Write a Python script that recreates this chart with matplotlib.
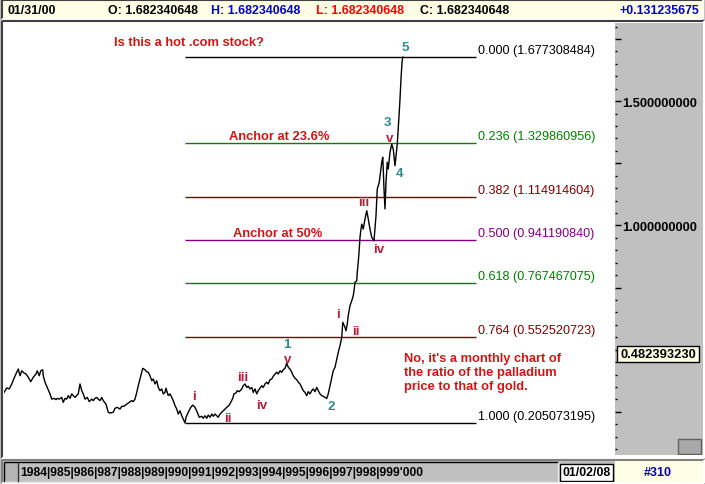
import matplotlib
matplotlib.use('Agg')
import matplotlib.pyplot as plt
from matplotlib.patches import Rectangle
from matplotlib.transforms import blended_transform_factory
from matplotlib.ticker import FixedLocator, MultipleLocator

# ---------------- data ----------------
dates = [
    1984.00, 1984.11, 1984.21, 1984.31, 1984.40, 1984.48, 1984.57, 1984.64, 1984.71, 1984.80,
    1984.88, 1984.97, 1985.07, 1985.17, 1985.28, 1985.33, 1985.41, 1985.47, 1985.55, 1985.57,
    1985.64, 1985.73, 1985.84, 1985.91, 1986.00, 1986.08, 1986.13, 1986.21, 1986.31, 1986.37,
    1986.44, 1986.51, 1986.57, 1986.64, 1986.71, 1986.77, 1986.84, 1986.91, 1986.97, 1987.04,
    1987.11, 1987.17, 1987.24, 1987.33, 1987.41, 1987.51, 1987.57, 1987.64, 1987.71, 1987.77,
    1987.84, 1987.91, 1987.97, 1988.08, 1988.17, 1988.24, 1988.37, 1988.44, 1988.53, 1988.64,
    1988.71, 1988.80, 1988.91, 1989.01, 1989.11, 1989.17, 1989.24, 1989.31, 1989.37, 1989.44,
    1989.51, 1989.55, 1989.64, 1989.71, 1989.77, 1989.84, 1989.91, 1989.97, 1990.04, 1990.11,
    1990.17, 1990.24, 1990.31, 1990.37, 1990.44, 1990.48, 1990.53, 1990.57, 1990.64, 1990.71,
    1990.77, 1990.84, 1990.91, 1990.97, 1991.04, 1991.11, 1991.17, 1991.24,
    1991.28, 1991.37, 1991.47, 1991.55, 1991.64, 1991.73, 1991.81, 1991.91, 1991.97, 1992.04,
    1992.11, 1992.17, 1992.24, 1992.31, 1992.37, 1992.44, 1992.51, 1992.57, 1992.64, 1992.71,
    1992.77, 1992.84, 1992.91, 1993.01, 1993.07, 1993.15, 1993.20, 1993.28, 1993.33, 1993.41,
    1993.51, 1993.57, 1993.64, 1993.71, 1993.77, 1993.84, 1993.91, 1993.97, 1994.04, 1994.11,
    1994.17, 1994.24, 1994.31, 1994.37, 1994.44, 1994.51, 1994.57, 1994.64, 1994.71, 1994.77,
    1994.84, 1994.91, 1994.97, 1995.04, 1995.11, 1995.17, 1995.24, 1995.31, 1995.37, 1995.44,
    1995.51, 1995.57, 1995.64, 1995.71, 1995.77, 1995.84, 1995.91, 1995.97, 1996.04, 1996.11,
    1996.17, 1996.24, 1996.31, 1996.37, 1996.44, 1996.51, 1996.57, 1996.64, 1996.71, 1996.77,
    1996.84, 1996.91, 1996.97, 1997.04, 1997.11, 1997.17, 1997.24, 1997.31, 1997.37,
    1997.44, 1997.51, 1997.55, 1997.64, 1997.68, 1997.73, 1997.77, 1997.84, 1997.91, 1997.97,
    1998.01, 1998.04, 1998.11, 1998.13, 1998.17, 1998.21, 1998.24, 1998.27, 1998.31, 1998.37,
    1998.44, 1998.51, 1998.57, 1998.64, 1998.71, 1998.80, 1998.88, 1998.93, 1999.01, 1999.11,
    1999.15, 1999.17, 1999.20, 1999.24, 1999.28, 1999.33, 1999.37, 1999.44, 1999.51, 1999.57,
    1999.61, 1999.64, 1999.68, 1999.73, 1999.77, 1999.81, 1999.84, 1999.88, 1999.92, 1999.95,
]
ratio = [
    0.328, 0.346, 0.342, 0.362, 0.385, 0.402, 0.422, 0.395, 0.415, 0.406,
    0.402, 0.389, 0.371, 0.389, 0.402, 0.415, 0.395, 0.415, 0.419, 0.395,
    0.369, 0.348, 0.322, 0.301, 0.304, 0.299, 0.304, 0.301, 0.308, 0.288,
    0.304, 0.301, 0.315, 0.304, 0.322, 0.315, 0.308, 0.315, 0.322, 0.362,
    0.335, 0.322, 0.301, 0.308, 0.291, 0.301, 0.295, 0.304, 0.308, 0.301,
    0.295, 0.308, 0.295, 0.281, 0.248, 0.245, 0.248, 0.264, 0.268, 0.261,
    0.272, 0.272, 0.281, 0.288, 0.295, 0.291, 0.301, 0.328, 0.355, 0.382,
    0.409, 0.425, 0.419, 0.411, 0.409, 0.395, 0.375, 0.382, 0.362, 0.375,
    0.348, 0.335, 0.342, 0.322, 0.328, 0.345, 0.328, 0.315, 0.322, 0.308,
    0.295, 0.275, 0.261, 0.241, 0.254, 0.234, 0.221, 0.205,
    0.228, 0.248, 0.268, 0.277, 0.268, 0.248, 0.228, 0.232, 0.224, 0.234,
    0.224, 0.237, 0.228, 0.241, 0.232, 0.241, 0.234, 0.228, 0.241, 0.248,
    0.254, 0.261, 0.268, 0.277, 0.288, 0.304, 0.322, 0.326, 0.335, 0.331,
    0.342, 0.355, 0.362, 0.348, 0.353, 0.342, 0.348, 0.328, 0.342, 0.322,
    0.335, 0.345, 0.355, 0.348, 0.362, 0.369, 0.362, 0.379, 0.382, 0.393,
    0.402, 0.409, 0.402, 0.415, 0.409, 0.419, 0.425, 0.446, 0.429, 0.422,
    0.409, 0.395, 0.385, 0.379, 0.369, 0.362, 0.348, 0.335, 0.328, 0.315,
    0.331, 0.322, 0.335, 0.342, 0.331, 0.348, 0.335, 0.322, 0.315, 0.312,
    0.308, 0.304, 0.322, 0.355, 0.389, 0.415, 0.429, 0.462, 0.489,
    0.516, 0.550, 0.610, 0.590, 0.576, 0.603, 0.637, 0.677, 0.697, 0.717,
    0.744, 0.771, 0.777, 0.811, 0.851, 0.905, 0.952, 0.978, 1.005, 0.985,
    1.026, 1.059, 1.026, 0.985, 0.952, 0.938, 1.039, 1.146, 1.173, 1.254,
    1.274, 1.227, 1.146, 1.066, 1.173, 1.254, 1.227, 1.294, 1.327, 1.307,
    1.267, 1.240, 1.280, 1.327, 1.388, 1.455, 1.508, 1.589, 1.656, 1.677,
]

fib_ratios = [0.000, 0.236, 0.382, 0.500, 0.618, 0.764, 1.000]
fib_values = [1.677308484, 1.329860956, 1.114914604, 0.941190840,
              0.767467075, 0.552520723, 0.205073195]
fib_colors = ['#000000', '#008000', '#800000', '#800080', '#008000', '#800000', '#000000']
fib_start, fib_end = 1991.24, 2002.88

# wave labels: (text, date, value, kind)
wave_labels = [
    ('i', 1991.60, 0.312, 'minor'), ('ii', 1992.95, 0.224, 'minor'),
    ('iii', 1993.53, 0.389, 'minor'), ('iv', 1994.31, 0.277, 'minor'),
    ('v', 1995.33, 0.461, 'minor'), ('1', 1995.33, 0.524, 'major'),
    ('2', 1997.07, 0.274, 'major'),
    ('i', 1997.37, 0.643, 'minor'), ('ii', 1998.08, 0.576, 'minor'),
    ('iii', 1998.40, 1.093, 'minor'), ('iv', 1999.01, 0.905, 'minor'),
    ('v', 1999.41, 1.353, 'minor'), ('3', 1999.33, 1.414, 'major'),
    ('4', 1999.80, 1.211, 'major'), ('5', 2000.04, 1.716, 'major'),
]
notes = [
    ('Is this a hot .com stock?', 1988.40, 1.738),
    ('Anchor at 23.6%', 1993.00, 1.359),
    ('Anchor at 50%', 1993.16, 0.969),
    ("No, it's a monthly chart of\nthe ratio of the palladium\nprice to that of gold.", 2000.00, 0.410),
]
y_ticks = [0.25, 0.50, 0.75, 1.00, 1.25, 1.50, 1.75]
cursor_value = 0.482393230

header = [('01/31/00', '#000000'), ('O: 1.682340648', '#000000'),
          ('H: 1.682340648', '#0000CC'), ('L: 1.682340648', '#FF0000'),
          ('C: 1.682340648', '#000000')]
header_change = '+0.131235675'
scroll_years = "1984|985|986|987|988|989|990|991|992|993|994|995|996|997|998|999'000"
date_box = '01/02/08'
chart_no = '#310'

FONT = 'Liberation Sans'
plt.rcParams['font.family'] = [FONT, 'DejaVu Sans']

# ---------------- figure ----------------
W, H = 705, 485
fig = plt.figure(figsize=(W / 100, H / 100), dpi=100, facecolor='#C0C0C0')

bg = fig.add_axes([0, 0, 1, 1], zorder=-5)
bg.set_xlim(0, W)
bg.set_ylim(H, 0)
bg.axis('off')


def rect(x0, y0, x1, y1, fc, ec='none', lw=0, z=1):
    bg.add_patch(Rectangle((x0, y0), x1 - x0, y1 - y0, facecolor=fc,
                           edgecolor=ec, linewidth=lw, zorder=z))


def sunken(x0, y0, x1, y1, dark='#404040', light='#FFFFFF', lw=1.5):
    kw = dict(lw=lw, zorder=3, solid_capstyle='butt')
    bg.plot([x0, x1], [y0, y0], color=dark, **kw)
    bg.plot([x0, x0], [y0, y1], color=dark, **kw)
    bg.plot([x0, x1], [y1, y1], color=light, **kw)
    bg.plot([x1, x1], [y0, y1], color=light, **kw)


# header bar
rect(2, 1, 703, 20, '#FFFFE6')
sunken(2, 1, 703, 20)
hx = [7, 108, 211, 316, 420]
for (txt, col), x in zip(header, hx):
    bg.text(x, 11, txt, color=col, fontsize=8.9, fontweight='bold',
            va='center', ha='left', zorder=4)
bg.text(699, 11, header_change, color='#0000CC', fontsize=8.9, fontweight='bold',
        va='center', ha='right', zorder=4)

# main frame
rect(2, 22, 704, 459, '#FFFFFF')
sunken(2, 22, 704, 459)

# bottom bar
sunken(2, 461, 704, 484, dark='#808080')
rect(4, 463, 558, 483, '#C0C0C0')
sunken(4, 463, 558, 483, dark='#000000', light='#E8E8E8', lw=1)
rect(5, 464, 17, 482, '#B4B4B4')
bg.plot([18, 18], [464, 482], color='#303030', lw=1, zorder=3)
bg.text(20, 473.5, scroll_years, fontsize=8.7, fontweight='bold', va='center', ha='left',
        color='#000000', zorder=4)
rect(560, 465, 613, 482, '#FFFFFF', ec='#000000', lw=1, z=2)
bg.text(586.5, 473.5, date_box, fontsize=8.9, fontweight='bold', va='center', ha='center',
        color='#000000', zorder=4)
rect(615, 462, 703, 483, '#FFFFE6')
bg.text(658, 473.5, chart_no, fontsize=9.0, fontweight='bold', va='center', ha='center',
        color='#0000AA', zorder=4)


def axpos(x0, y0, x1, y1):
    return [x0 / W, 1 - y1 / H, (x1 - x0) / W, (y1 - y0) / H]


YLIM = (0.0641, 1.8141)

# ---------------- main chart ----------------
ax = fig.add_axes(axpos(4, 24, 615, 459))
ax.set_facecolor('#FFFFFF')
ax.set_xlim(1984.00, 2008.44)
ax.set_ylim(*YLIM)
for s in ax.spines.values():
    s.set_visible(False)
ax.set_xticks([])
ax.set_yticks([])

for val, lvl, col in zip(fib_values, fib_ratios, fib_colors):
    ax.plot([fib_start, fib_end], [val, val], color=col, lw=1.0, solid_capstyle='butt')
    ax.text(fib_end + 0.08, val + 0.004, f'{lvl:.3f} ({val:.9f})', color=col,
            fontsize=9.1, va='bottom', ha='left')

ax.plot(dates, ratio, color='#000000', lw=1.0, zorder=5)

for txt, d, v, kind in wave_labels:
    col = '#B0203A' if kind == 'minor' else '#2E8A8A'
    ax.text(d, v, txt, color=col, fontsize=9.6, fontweight='bold',
            ha='center', va='center', zorder=6)

for txt, d, v in notes:
    ax.text(d, v, txt, color='#D01515', fontsize=9.3, fontweight='bold',
            ha='left', va='center', linespacing=1.25, zorder=6)

# ---------------- right price axis ----------------
ax2 = fig.add_axes(axpos(615, 24, 703, 456))
ax2.set_facecolor('#C0C0C0')
ax2.set_xlim(0, 1)
ax2.set_ylim(YLIM[0] + 3 * 0.004023, YLIM[1])
for s in ax2.spines.values():
    s.set_visible(False)
ax2.set_xticks([])
ax2.yaxis.set_major_locator(FixedLocator(y_ticks))
ax2.set_yticklabels([f'{t:.9f}' if abs(t * 2 - round(t * 2)) < 1e-9 else '' for t in y_ticks])
ax2.yaxis.set_minor_locator(MultipleLocator(0.05))
ax2.tick_params(axis='y', which='major', direction='in', length=4, width=1,
                color='#000000', pad=-5, labelsize=9.3)
ax2.tick_params(axis='y', which='minor', direction='in', length=1.2, width=1, color='#000000')
for lab in ax2.get_yticklabels():
    lab.set_horizontalalignment('left')
    lab.set_fontweight('bold')

tr = blended_transform_factory(ax2.transAxes, ax2.transData)
box_h = 0.062
ax2.add_patch(Rectangle((0.02, cursor_value - box_h / 2), 0.94, box_h, transform=tr,
                        facecolor='#FFFFE6', edgecolor='#000000', lw=1, zorder=5))
ax2.text(0.49, cursor_value, f'{cursor_value:.9f}', transform=tr, ha='center', va='center',
         fontsize=9.3, fontweight='bold', zorder=6)
# small toolbar icon
ax2.add_patch(Rectangle((0.72, 0.003), 0.26, 0.033, transform=ax2.transAxes,
                        facecolor='#A8A8A8', edgecolor='#606060', lw=1, zorder=5))

fig.savefig('out.png', dpi=100, facecolor=fig.get_facecolor())
